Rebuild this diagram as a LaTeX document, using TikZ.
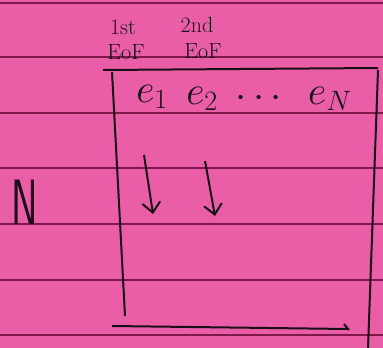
\documentclass[tikz,border=0pt]{standalone}
\usepackage{fix-cm}
\usepackage{amsmath}
\usepackage{xcolor}
\usetikzlibrary{arrows.meta}

\definecolor{paper}{RGB}{234,94,168}
\definecolor{rule}{RGB}{125,25,75}
\definecolor{ink}{RGB}{25,15,25}

\tikzset{
    ruled/.style={rule, line width=1.6pt},
    pen/.style={ink, line width=2pt},
    hand/.style={ink, inner sep=0pt, font=\fontsize{22}{26}\selectfont},
    elem/.style={ink, inner sep=0pt, font=\fontsize{40}{46}\selectfont},
    down/.style={pen, -{Straight Barb[length=10pt, width=18pt]}}
}

\begin{document}
\begin{tikzpicture}[x=1pt, y=-1pt]
        \useasboundingbox[fill=paper] (0, 0) rectangle (383, 348);

        % lines of the paper
        \foreach \y in {3, 57, 113, 168, 224, 280, 335}
            \draw[ruled] (0, \y) -- (383, \y);

        % labels over the box
        \node[hand] (first) at (123, 27) {1st};
        \node[hand] (second) at (197, 25) {2nd};
        \node[hand] (eoffirst) at (126, 52) {EoF};
        \node[hand] (eofsecond) at (203, 51) {EoF};

        % the box
        \draw[pen] (103, 70) -- (378, 68);
        \draw[pen] (112, 72) -- (125, 316);
        \draw[pen] (378, 70) -- (368, 348);
        \draw[pen] (112, 326) -- (348, 329) -- ++(-4, -5);

        \node[elem] (e1) at (152, 97) {$e_{1}$};
        \node[elem] (e2) at (202, 99) {$e_{2}$};
        \node[elem] (dots) at (262, 99) {$\cdots$};
        \node[elem] (eN) at (330, 99) {$e_{N}$};

        \coordinate (a1) at (153, 214);
        \coordinate (a2) at (215, 216);
        \draw[down] (e1) ++(-8, 58) -- (a1);
        \draw[down] (e2) ++(3, 62) -- (a2);

        \node[ink, inner sep=0pt, font=\fontsize{40}{46}\selectfont] (n) at (25, 202) {\scalebox{1}[1.6]{$\mathsf{N}$}};
    \end{tikzpicture}
\end{document}
